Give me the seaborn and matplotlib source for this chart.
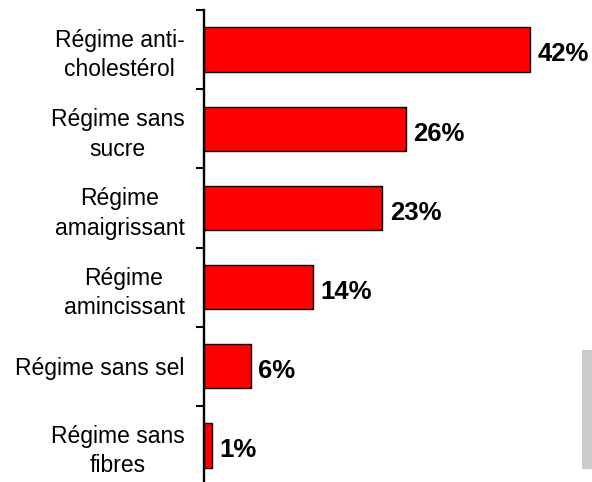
import matplotlib
matplotlib.use("Agg")
import matplotlib.pyplot as plt
from matplotlib.patches import Rectangle
import seaborn as sns
import pandas as pd
import numpy as np

categories = [
    "Régime anti-\ncholestérol",
    "Régime sans\nsucre",
    "Régime\namaigrissant",
    "Régime\namincissant",
    "Régime sans sel",
    "Régime sans\nfibres",
]
values = [42, 26, 23, 14, 6, 1]
value_labels = ["42%", "26%", "23%", "14%", "6%", "1%"]

sns.set_style("white")
plt.rcParams["font.family"] = ["Liberation Sans", "DejaVu Sans"]

df = pd.DataFrame({"regime": categories, "pct": values})

fig = plt.figure(figsize=(5.92, 4.82), dpi=100)
W, H = 592, 482
ax = fig.add_axes([204 / W, (H - 485) / H, 388 / W, 475 / H])

sns.barplot(data=df, y="regime", x="pct", orient="h", color="#ff0000",
            saturation=1, width=0.56, edgecolor="black", linewidth=1.0, ax=ax)

ax.set_xlim(0, 50)
ax.set_ylim(5.5, -0.5)
ax.set_xlabel("")
ax.set_ylabel("")
ax.set_xticks([])

for s in ["top", "right", "bottom"]:
    ax.spines[s].set_visible(False)
ax.spines["left"].set_linewidth(1.7)
ax.spines["left"].set_color("black")

# labels at bar centres, tick marks at category boundaries
ax.set_yticks(range(len(categories)))
ax.set_yticklabels(categories, fontsize=16.5, color="black")
for lab in ax.get_yticklabels():
    lab.set_multialignment("center")
    lab.set_linespacing(1.35)
ax.tick_params(axis="y", which="major", length=0, pad=14)
ax.set_yticks(np.arange(-0.5, len(categories), 1.0), minor=True)
ax.tick_params(axis="y", which="minor", length=6, width=1.5, color="black", left=True)

for i, (v, t) in enumerate(zip(values, value_labels)):
    ax.annotate(t, xy=(v, i), xytext=(5.5, -3.5), textcoords="offset points",
                ha="left", va="center", fontsize=18.5, fontweight="bold", color="black")

fig.patches.append(Rectangle((582 / W, (H - 469) / H), 10 / W, 119 / H,
                             transform=fig.transFigure, facecolor="#cccccc",
                             edgecolor="none", zorder=0))

fig.savefig("out.png", dpi=100)
